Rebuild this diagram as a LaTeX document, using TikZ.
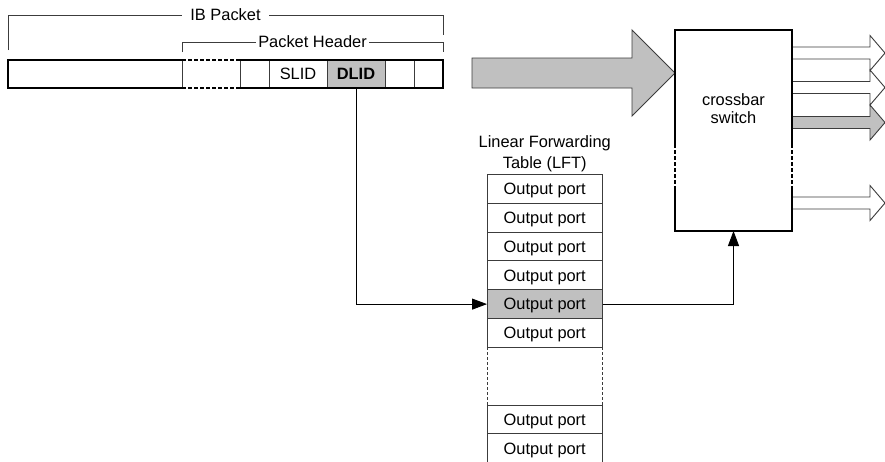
\documentclass[tikz,border=0pt]{standalone}
\usepackage{fontspec}
\setmainfont{Liberation Sans}
\usetikzlibrary{arrows.meta}
\definecolor{shade}{HTML}{C0C0C0}
\definecolor{edge}{HTML}{3C3C3C}
\begin{document}
\begin{tikzpicture}[x=1pt, y=-1pt,
  txt/.style={font=\fontsize{16.4}{18}\selectfont, text height=11.7pt, text depth=0pt,
              inner sep=0pt, outer sep=0pt},
  cell/.style={txt, draw=edge, line width=0.9pt, minimum height=28pt},
  lftrow/.style={cell, minimum width=115.5pt, minimum height=28.8pt},
  heavy/.style={line width=2.7pt, black},
  heavydots/.style={heavy, dash pattern=on 4pt off 2pt},
  thinline/.style={line width=0.9pt, draw=edge},
  conn/.style={line width=0.9pt, black, -{Triangle[length=15pt,width=11pt]}},
  bracketlabel/.style={txt, fill=white},
  pics/portarrow/.style={code={
    \draw[thinline, fill=#1] (0,-6) -- (78,-6) -- (78,-17.5) -- (93,0)
      -- (78,17.5) -- (78,6) -- (0,6) -- cycle;}}
]
\useasboundingbox (0,0) rectangle (885,461);
\fill[white] (0,0) rectangle (885,461);

% ---- IB packet fields ----
\node[cell, minimum width=174pt] (c0) at (95,74) {};
\node[txt, minimum width=58pt, minimum height=28pt] (c1) at (211,74) {};
\node[cell, minimum width=29pt] (c2) at (254.5,74) {};
\node[cell, minimum width=58pt] (slid) at (298,74) {SLID};
\node[cell, minimum width=58pt, fill=shade, font=\fontsize{16.4}{18}\selectfont\bfseries] (dlid) at (356,74) {DLID};
\node[cell, minimum width=29pt] (c5) at (399.5,74) {};
\node[cell, minimum width=29pt] (c6) at (428.5,74) {};
\draw[heavy] (c0.north east) -- (c0.north west) -- (c0.south west) -- (c0.south east);
\draw[heavy] (c2.north west) -- (c6.north east) -- (c6.south east) -- (c2.south west);
\draw[heavydots] (c1.north west) -- (c1.north east) (c1.south west) -- (c1.south east);

% ---- brackets above the packet ----
\coordinate (ibL) at (8,50);
\coordinate (ibR) at (443,35);
\draw[thinline] (ibL) -- (ibL |- 0,15) -- (ibR |- 0,15) -- (ibR);
\node[bracketlabel, inner xsep=8pt] (ib) at (225.5,15) {IB Packet};
\coordinate (phL) at (182,52);
\coordinate (phR) at (443,52);
\draw[thinline] (phL) -- (phL |- 0,42) -- (phR |- 0,42) -- (phR);
\node[bracketlabel, inner xsep=2pt] (ph) at (312.5,42) {Packet Header};

% ---- crossbar switch ----
\node[txt, minimum width=117pt, minimum height=201pt] (sw) at (733.5,130.5) {};
\node[txt] (swa) at (733.5,99.25) {crossbar};
\node[txt] (swb) at (733.5,117.25) {switch};

% incoming packet arrow
\draw[thinline, fill=shade] (472,58) -- (632,58) -- (632,30) -- (sw.west |- 0,73)
  -- (632,116) -- (632,88) -- (472,88) -- cycle;

% output ports
\pic at (sw.east |- 0,53) {portarrow=white};
\pic at (sw.east |- 0,87.5) {portarrow=white};
\pic at (sw.east |- 0,122.5) {portarrow=shade};
\pic at (sw.east |- 0,203) {portarrow=white};

% ---- linear forwarding table ----
\node[txt] (lft1) at (544.75,142) {Linear Forwarding};
\node[txt] (lft2) at (544.75,163) {Table (LFT)};
\foreach \i/\yc in {1/188.9,2/217.7,3/246.5,4/275.3,6/332.9,8/419.4,9/448.2}
  \node[lftrow] (r\i) at (544.75,\yc) {Output port};
\node[lftrow, fill=shade] (r5) at (544.75,304.1) {Output port};
\node[txt, minimum width=115.5pt, minimum height=57.7pt] (r7) at (544.75,376.15) {};
\draw[thinline, dash pattern=on 3pt off 2pt]
  (r7.north west) -- (r7.south west) (r7.north east) -- (r7.south east);

% ---- lookup path ----
\draw[conn] (dlid.south) |- (r5.west);
\draw[conn] (r5.east) -| (sw.south);

% switch outline with elided middle section
\coordinate (swL1) at (675,144);
\coordinate (swL2) at (675,187);
\coordinate (swR1) at (792,144);
\coordinate (swR2) at (792,187);
\draw[heavy] (swL1) -- (sw.north west) -- (sw.north east) -- (swR1);
\draw[heavy] (swL2) -- (sw.south west) -- (sw.south east) -- (swR2);
\draw[heavydots] (swL1) -- (swL2) (swR1) -- (swR2);
\end{tikzpicture}
\end{document}
